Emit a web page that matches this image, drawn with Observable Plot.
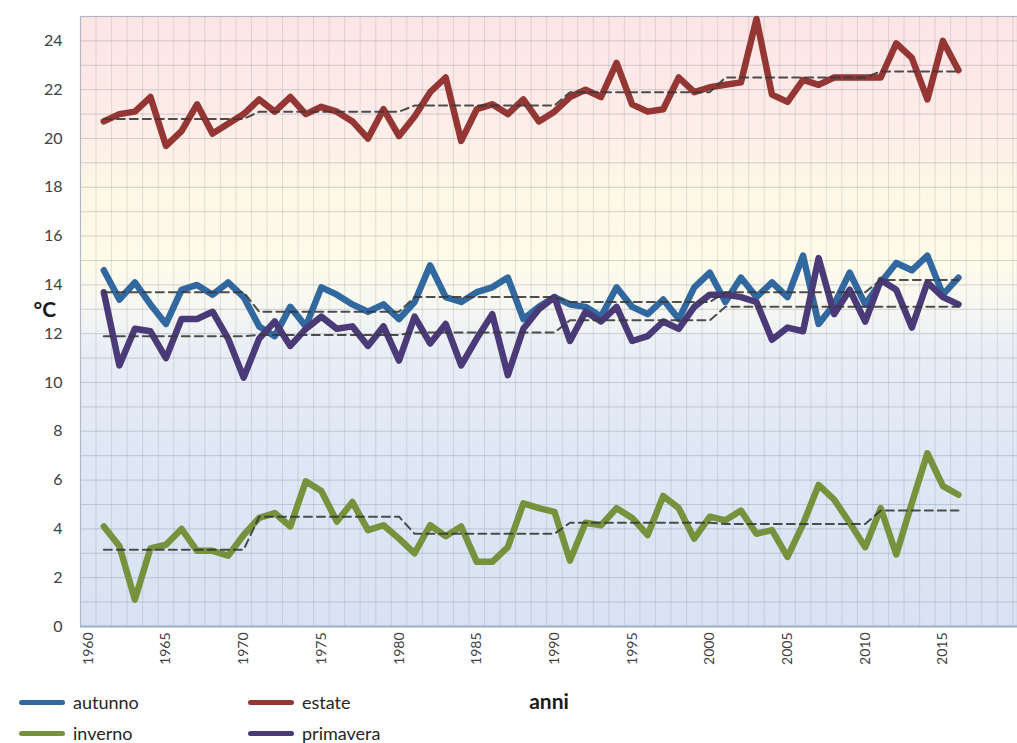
<!DOCTYPE html>
<html><head><meta charset="utf-8">
<script src="https://cdn.jsdelivr.net/npm/d3@7"></script>
<script src="https://cdn.jsdelivr.net/npm/@observablehq/plot@0.6"></script>
<style>
body{margin:0;background:#fff;font-family:Lato,"Open Sans",sans-serif;}
#wrap{position:relative;width:1017px;height:743px;}
#legend{position:absolute;left:19px;top:690px;display:grid;grid-template-columns:229px 229px;row-gap:7px;font-size:18px;color:#262626;}
.item{display:flex;align-items:center;height:24px;}
.sw{width:46px;height:5px;border-radius:3px;margin-right:8px;}
</style></head><body><div id="wrap"></div>
<script>
// categories
const years = d3.range(1961, 2017);
const xTicks = [1960, 1965, 1970, 1975, 1980, 1985, 1990, 1995, 2000, 2005, 2010, 2015];
const yTicks = [0, 2, 4, 6, 8, 10, 12, 14, 16, 18, 20, 22, 24];
const seasons = ["autunno", "estate", "inverno", "primavera"];
const colors = ["#3168a0", "#943634", "#76923c", "#4b3a78"];

// series values (°C), 1961-2016
const autunno = [14.6,13.4,14.1,13.2,12.4,13.8,14.0,13.6,14.1,13.5,
  12.3,11.9,13.1,12.3,13.9,13.6,13.2,12.9,13.2,12.6,
  13.3,14.8,13.5,13.3,13.7,13.9,14.3,12.6,13.1,13.5,
  13.2,13.1,12.7,13.9,13.1,12.8,13.4,12.6,13.9,14.5,
  13.3,14.3,13.5,14.1,13.5,15.2,12.4,13.2,14.5,13.2,
  14.1,14.9,14.6,15.2,13.6,14.3];
const estate = [20.7,21.0,21.1,21.7,19.7,20.3,21.4,20.2,20.6,21.0,
  21.6,21.1,21.7,21.0,21.3,21.1,20.7,20.0,21.2,20.1,
  20.9,21.9,22.5,19.9,21.2,21.4,21.0,21.6,20.7,21.1,
  21.7,22.0,21.7,23.1,21.4,21.1,21.2,22.5,21.9,22.1,
  22.2,22.3,24.9,21.8,21.5,22.4,22.2,22.5,22.5,22.5,
  22.5,23.9,23.3,21.6,24.0,22.8];
const inverno = [4.1,3.3,1.1,3.2,3.35,4.0,3.1,3.1,2.9,3.75,
  4.45,4.65,4.1,5.95,5.55,4.3,5.1,3.95,4.15,3.6,
  3.0,4.15,3.7,4.1,2.65,2.65,3.25,5.05,4.85,4.7,
  2.7,4.25,4.15,4.85,4.45,3.75,5.35,4.85,3.6,4.5,
  4.35,4.75,3.8,3.95,2.85,4.2,5.8,5.2,4.25,3.25,
  4.85,2.95,5.05,7.1,5.75,5.4];
const primavera = [13.7,10.7,12.2,12.1,11.0,12.6,12.6,12.9,11.8,10.2,
  11.8,12.5,11.5,12.2,12.7,12.2,12.3,11.5,12.3,10.9,
  12.7,11.6,12.4,10.7,11.8,12.8,10.3,12.2,13.0,13.5,
  11.7,12.9,12.5,13.1,11.7,11.9,12.5,12.2,13.1,13.6,
  13.6,13.5,13.3,11.75,12.25,12.1,15.1,12.8,13.8,12.5,
  14.2,13.8,12.25,14.1,13.5,13.2];

// decade means (dashed): 1961-70, 71-80, 81-90, 91-00, 01-10, 11-16
const decadeEnds = [1970, 1980, 1990, 2000, 2010, 2016];
const trendAutunno = [13.7, 12.9, 13.5, 13.3, 13.7, 14.2];
const trendEstate = [20.8, 21.1, 21.35, 21.9, 22.5, 22.75];
const trendInverno = [3.15, 4.5, 3.8, 4.25, 4.2, 4.75];
const trendPrimavera = [11.9, 11.95, 12.05, 12.55, 13.1, 13.1];

const seriesVals = [autunno, estate, inverno, primavera];
const trendVals = [trendAutunno, trendEstate, trendInverno, trendPrimavera];

const rows = [], trendRows = [];
seasons.forEach((s, i) => {
  years.forEach((y, j) => {
    rows.push({season: s, year: y, t: seriesVals[i][j]});
    const d = decadeEnds.findIndex(e => y <= e);
    trendRows.push({season: s, year: y, t: trendVals[i][d]});
  });
});

const font = "Lato, 'Open Sans', sans-serif";
const chart = Plot.plot({
  width: 1017, height: 743,
  marginLeft: 80, marginRight: 0, marginTop: 16, marginBottom: 117,
  style: {fontFamily: font, background: "transparent"},
  x: {domain: [1959.5, 2019.8]},
  y: {domain: [0, 25]},
  color: {domain: seasons, range: colors},
  marks: [
    Plot.frame({fill: "url(#bgGrad)", stroke: "none"}),
    Plot.gridY(d3.range(0, 26, 1), {stroke: "#7d8694", strokeOpacity: 0.33, strokeWidth: 1}),
    Plot.gridX(d3.range(1959.5, 2020, 1), {stroke: "#7d8694", strokeOpacity: 0.22, strokeWidth: 1}),
    Plot.frame({stroke: "#b3b9c4", strokeWidth: 1.2}),
    Plot.ruleY([0], {stroke: "#9fb0c6", strokeWidth: 2}),
    Plot.axisY(yTicks, {tickSize: 0, tickPadding: 18, fontSize: 16, fill: "#404040", label: null}),
    Plot.axisX(xTicks, {tickSize: 0, tickPadding: 6, tickRotate: -90, fontSize: 14, fill: "#404040",
      tickFormat: d => String(d), label: "anni", labelAnchor: "center", labelArrow: "none", labelOffset: 82}),
    Plot.text(["°C"], {frameAnchor: "left", dx: -47, dy: -11, fontSize: 21, fontWeight: "bold", fill: "#1a1a1a"}),
    Plot.line(rows, {x: "year", y: "t", z: "season", stroke: "season", strokeWidth: 6.5,
      strokeLinejoin: "round", strokeLinecap: "round"}),
    Plot.line(trendRows, {x: "year", y: "t", z: "season", stroke: "#3a3a3a", strokeWidth: 2,
      strokeDasharray: "8,5", strokeOpacity: 0.9})
  ]
});

d3.select(chart).insert("defs", ":first-child").html(`
  <linearGradient id="bgGrad" x1="0" y1="0" x2="0" y2="1">
    <stop offset="0" stop-color="#fce5e5"/>
    <stop offset="0.16" stop-color="#fdece8"/>
    <stop offset="0.30" stop-color="#fef8e6"/>
    <stop offset="0.40" stop-color="#fefbe9"/>
    <stop offset="0.47" stop-color="#f8f8f2"/>
    <stop offset="0.55" stop-color="#e8edf6"/>
    <stop offset="0.70" stop-color="#e0e8f5"/>
    <stop offset="1" stop-color="#d8e2f2"/>
  </linearGradient>`);
// style the axis label "anni"
d3.select(chart).selectAll("text").filter(function() { return this.textContent === "anni"; })
  .attr("font-size", 21).attr("font-weight", "bold").attr("fill", "#1a1a1a");

const wrap = document.getElementById("wrap");
wrap.appendChild(chart);
const legend = document.createElement("div");
legend.id = "legend";
seasons.forEach((s, i) => {
  const it = document.createElement("div");
  it.className = "item";
  const sw = document.createElement("span");
  sw.className = "sw";
  sw.style.background = colors[i];
  const tx = document.createElement("span");
  tx.textContent = s;
  it.appendChild(sw); it.appendChild(tx);
  legend.appendChild(it);
});
wrap.appendChild(legend);
</script></body></html>
